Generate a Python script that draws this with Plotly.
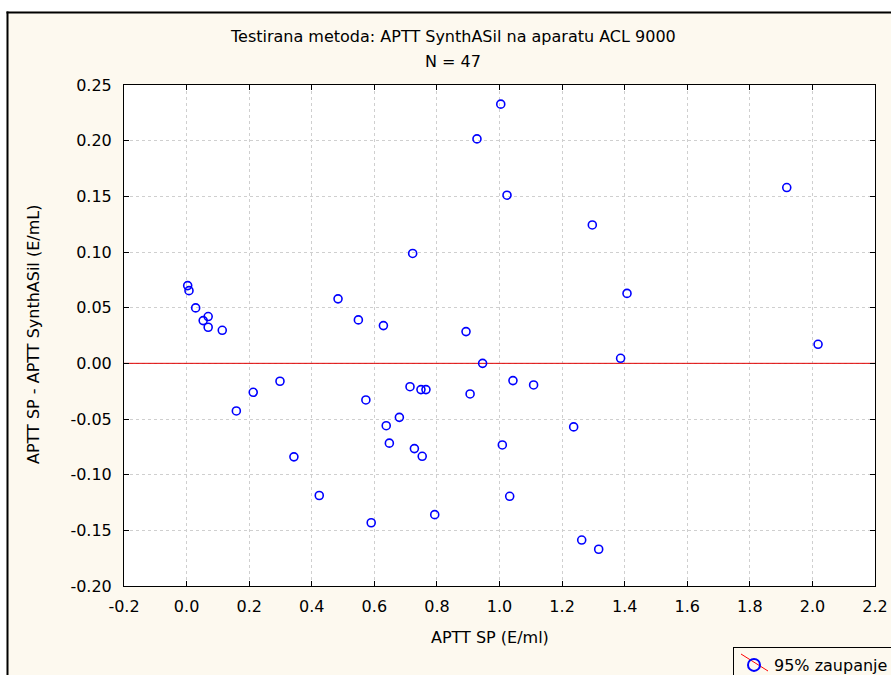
import plotly.graph_objects as go

# ---- data ----
x_vals = [0.0035, 0.0077, 0.029, 0.053, 0.069, 0.069, 0.114, 0.159, 0.213, 0.2985,
          0.343, 0.424, 0.484, 0.549, 0.573, 0.590, 0.629, 0.638, 0.648, 0.680,
          0.714, 0.7225, 0.728, 0.749, 0.753, 0.765, 0.793, 0.893, 0.906, 0.928,
          0.946, 1.004, 1.009, 1.024, 1.0326, 1.043, 1.109, 1.237, 1.2627, 1.2966,
          1.317, 1.387, 1.4075, 1.918, 2.018]
y_vals = [0.0698, 0.0653, 0.0498, 0.0384, 0.0420, 0.0324, 0.0297, -0.0428, -0.0260, -0.0161,
          -0.0840, -0.1187, 0.0579, 0.0390, -0.0329, -0.1432, 0.0339, -0.0560, -0.0717, -0.0485,
          -0.0210, 0.0987, -0.0766, -0.0236, -0.0835, -0.0236, -0.1359, 0.0285, -0.0275, 0.2016,
          0.0000, 0.2328, -0.0733, 0.1510, -0.1194, -0.0155, -0.0194, -0.0571, -0.1587, 0.1243,
          -0.1670, 0.0045, 0.0628, 0.1579, 0.0171]
x_range = [-0.2, 2.2]
y_range = [-0.2, 0.25]
zero_level = 0.0
x_ticks = [-0.2, 0.0, 0.2, 0.4, 0.6, 0.8, 1.0, 1.2, 1.4, 1.6, 1.8, 2.0, 2.2]
y_ticks = [-0.20, -0.15, -0.10, -0.05, 0.00, 0.05, 0.10, 0.15, 0.20, 0.25]
title_line1 = "Testirana metoda: APTT SynthASil na aparatu ACL 9000"
title_line2 = "N = 47"
x_title = "APTT SP (E/ml)"
y_title = "APTT SP - APTT SynthASil (E/mL)"
legend_name = "95% zaupanje"

# ---- layout geometry ----
W, H = 891, 675
L, R, T, B = 124, 875, 85, 586
CREAM = "#fdf9ef"
FONT = "DejaVu Sans, Liberation Sans, Arial, sans-serif"
FS = 16

def px2x(px):
    return (px - L) / (R - L)

def px2y(py):
    return (B - py) / (B - T)

fig = go.Figure()
# zero reference line (above grid, below markers)
fig.add_trace(go.Scatter(
    x=x_range, y=[zero_level, zero_level], mode="lines",
    line=dict(color="#e00000", width=1), showlegend=False, hoverinfo="skip",
))
fig.add_trace(go.Scatter(
    x=x_vals, y=y_vals, mode="markers", name=legend_name,
    marker=dict(symbol="circle-open", size=8, color="#0000ff",
                line=dict(color="#0000ff", width=1.6)),
    showlegend=True,
))

axis_common = dict(
    showline=True, linecolor="black", linewidth=1, mirror="ticks",
    ticks="inside", ticklen=5, tickcolor="black", tickwidth=1,
    showgrid=True, gridcolor="#cfcfcf", griddash="dot", gridwidth=1,
    zeroline=False, tickfont=dict(family=FONT, size=FS, color="black"),
)

fig.update_xaxes(range=x_range, tickvals=x_ticks,
                 ticktext=[f"{v:.1f}" for v in x_ticks], ticklabelstandoff=6,
                 **axis_common)
fig.update_yaxes(range=y_range, tickvals=y_ticks,
                 ticktext=[f"{v:.2f}" for v in y_ticks], ticklabelstandoff=8,
                 **axis_common)

shapes = [
    # white margins outside the frame
    dict(type="rect", xref="paper", yref="paper", x0=px2x(0), x1=px2x(6.5),
         y0=px2y(H + 5), y1=px2y(-5), fillcolor="white", line_width=0, layer="above"),
    dict(type="rect", xref="paper", yref="paper", x0=px2x(0), x1=px2x(W + 5),
         y0=px2y(11.5), y1=px2y(-5), fillcolor="white", line_width=0, layer="above"),
    # outer frame
    dict(type="line", xref="paper", yref="paper", x0=px2x(7.5), x1=px2x(7.5),
         y0=px2y(11.5), y1=px2y(H + 5), line=dict(color="black", width=2), layer="above"),
    dict(type="line", xref="paper", yref="paper", x0=px2x(6.5), x1=px2x(W + 5),
         y0=px2y(12.5), y1=px2y(12.5), line=dict(color="black", width=2), layer="above"),
    # red diagonal in legend symbol
    dict(type="line", xref="paper", yref="paper", x0=px2x(741), x1=px2x(768),
         y0=px2y(654), y1=px2y(671), line=dict(color="#ff0000", width=1), layer="above"),
]

annotations = [
    dict(text=title_line1, xref="paper", yref="paper", x=px2x(453), y=px2y(37),
         xanchor="center", yanchor="middle", showarrow=False,
         font=dict(family=FONT, size=FS, color="black")),
    dict(text=title_line2, xref="paper", yref="paper", x=px2x(453), y=px2y(62),
         xanchor="center", yanchor="middle", showarrow=False,
         font=dict(family=FONT, size=FS, color="black")),
    dict(text=x_title, xref="paper", yref="paper", x=px2x(490), y=px2y(637),
         xanchor="center", yanchor="middle", showarrow=False,
         font=dict(family=FONT, size=FS, color="black")),
    dict(text=y_title, xref="paper", yref="paper", x=px2x(33), y=px2y(335),
         xanchor="center", yanchor="middle", showarrow=False, textangle=-90,
         font=dict(family=FONT, size=FS, color="black")),
]

fig.update_layout(
    width=W, height=H,
    margin=dict(l=L, r=W - R, t=T, b=H - B, autoexpand=False),
    paper_bgcolor=CREAM, plot_bgcolor="white",
    font=dict(family=FONT, size=FS, color="black"),
    shapes=shapes, annotations=annotations,
    showlegend=True,
    legend=dict(x=px2x(733), y=px2y(647), xanchor="left", yanchor="top",
                bgcolor="rgba(0,0,0,0)", bordercolor="black", borderwidth=1,
                font=dict(family=FONT, size=FS, color="black"),
                itemsizing="constant"),
)

fig.write_html("out.html")
